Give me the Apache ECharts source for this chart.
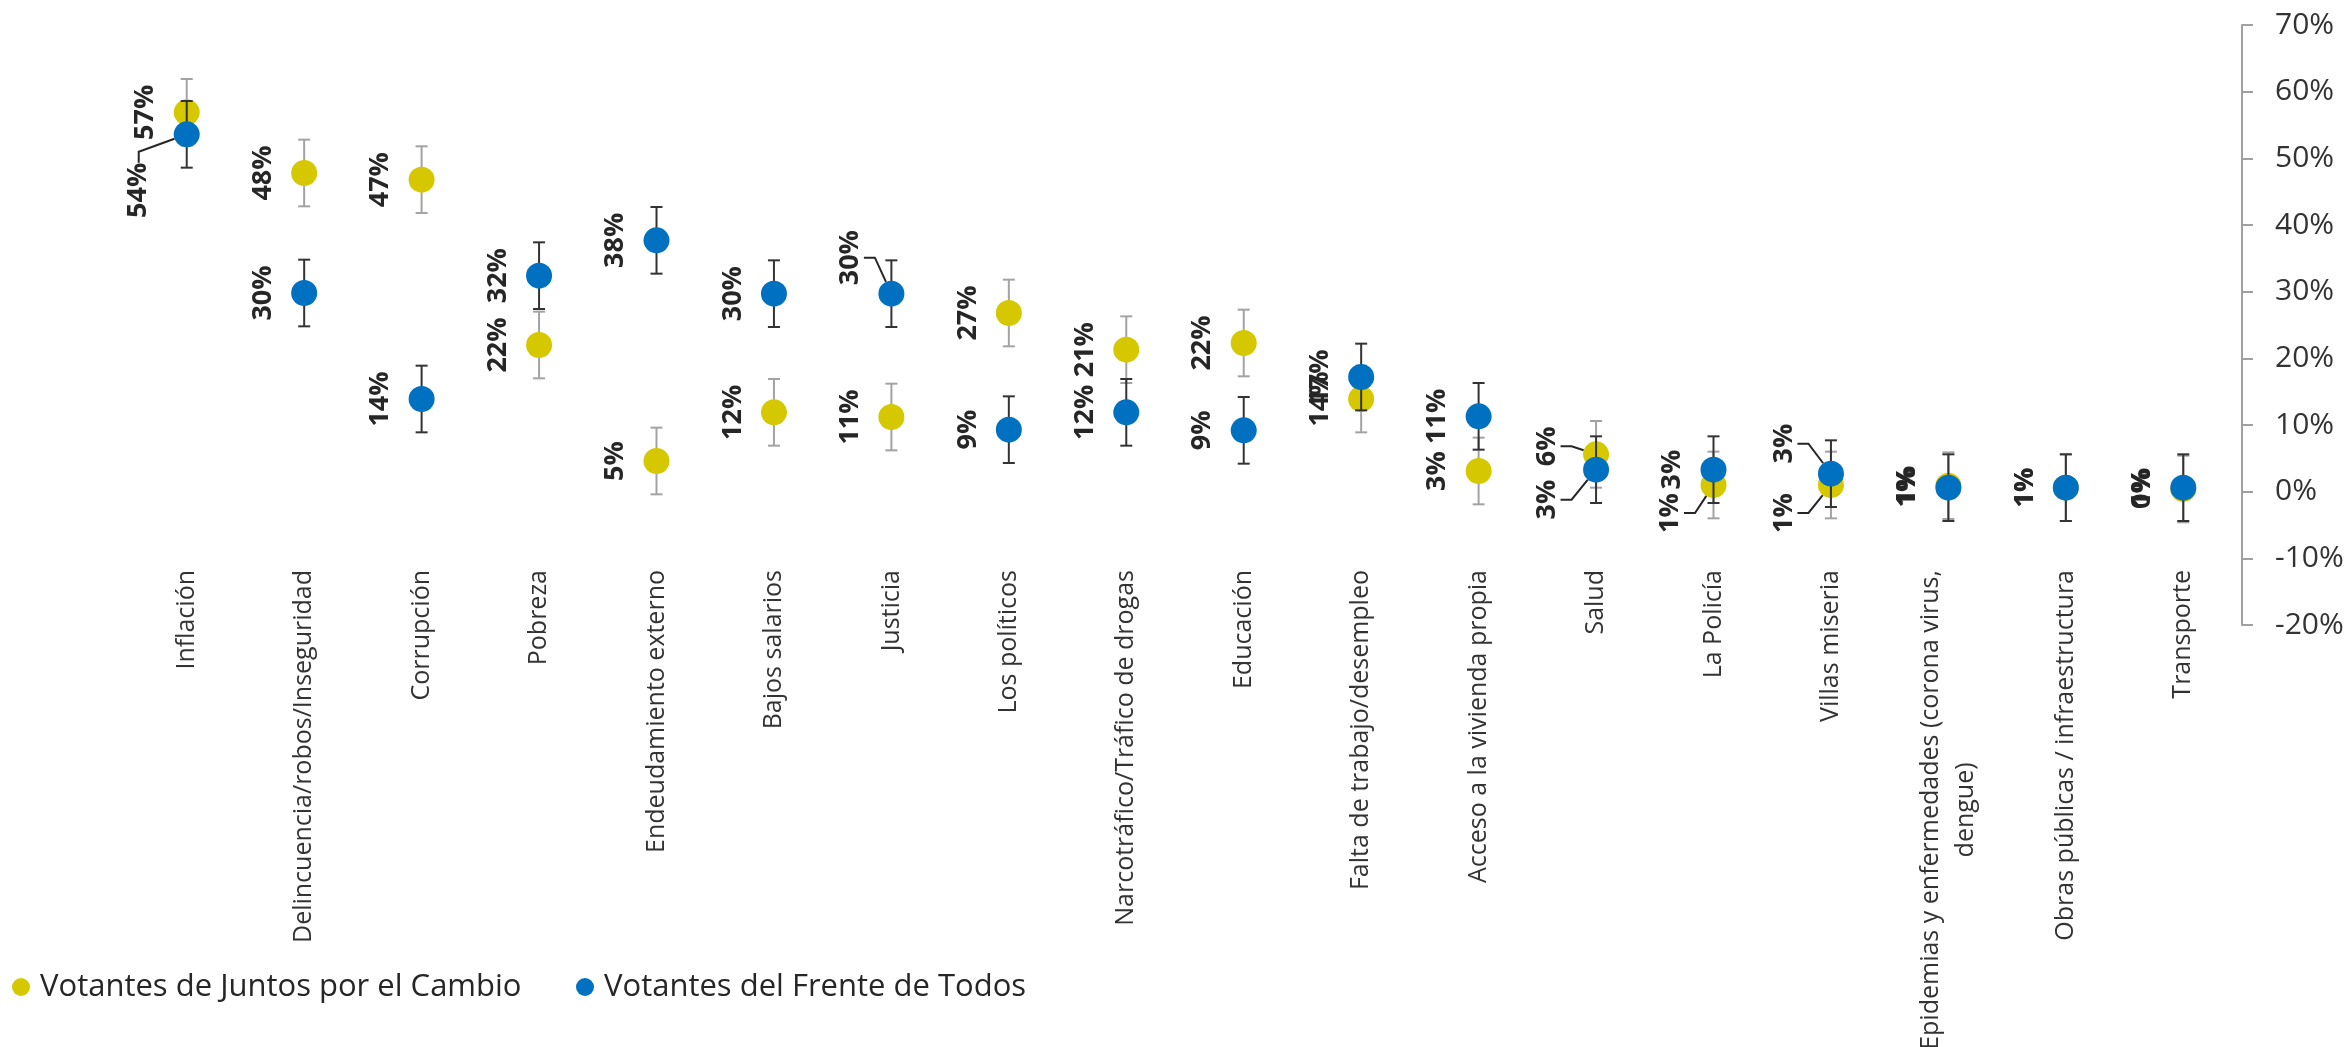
<!DOCTYPE html>
<html>
<head>
<meta charset="utf-8">
<script src="https://cdn.jsdelivr.net/npm/echarts@6/dist/echarts.min.js"></script>
<style>
html,body{margin:0;padding:0;background:#ffffff;}
#c{width:2351px;height:1047px;}
</style>
</head>
<body>
<div id="c"></div>
<script>
// ---------- data ----------
const categories = [
  'Inflación',
  'Delincuencia/robos/Inseguridad',
  'Corrupción',
  'Pobreza',
  'Endeudamiento externo',
  'Bajos salarios',
  'Justicia',
  'Los políticos',
  'Narcotráfico/Tráfico de drogas',
  'Educación',
  'Falta de trabajo/desempleo',
  'Acceso a la vivienda propia',
  'Salud',
  'La Policía',
  'Villas miseria',
  'Epidemias y enfermedades (corona virus,\ndengue)',
  'Obras públicas / infraestructura',
  'Transporte'
];
const seriesNames = ['Votantes de Juntos por el Cambio', 'Votantes del Frente de Todos'];
const juntosValues = [56.9, 47.8, 46.8, 22.0, 4.6, 11.9, 11.2, 26.8, 21.3, 22.3, 13.9, 3.1, 5.6, 1.0, 1.0, 0.9, 0.6, 0.4];
const frenteValues = [53.6, 29.8, 13.9, 32.4, 37.7, 29.7, 29.7, 9.3, 11.9, 9.2, 17.2, 11.3, 3.3, 3.3, 2.7, 0.6, 0.6, 0.6];
const juntosError  = [5, 5, 5, 5, 5, 5, 5, 5, 5, 5, 5, 5, 5, 5, 5, 5, 5, 5];
const frenteError  = [5, 5, 5, 5, 5, 5, 5, 5, 5, 5, 5, 5, 5, 5, 5, 5, 5, 5];
const yMin = -20, yMax = 70, yStep = 10;

// ---------- styling ----------
const YELLOW = '#D6C800';
const BLUE = '#0070C0';
const FONT = '"Open Sans", "Noto Sans", sans-serif';
// manual label displacements on screen (px: right, down) with leader lines, as in the original
const juntosShift = {12: [-8, -8], 13: [-2, 28], 14: [-6, 28]};
const frenteShift = {0: [-7, 56], 6: [0, -36], 12: [-8, 30], 14: [-6, -30]};

function errorSeries(values, errs, color, z) {
  return {
    type: 'custom',
    silent: true,
    z: z,
    data: values.map((v, i) => [i, v - errs[i], v + errs[i]]),
    encode: {x: 0, y: [1, 2]},
    renderItem: function (params, api) {
      const x = api.value(0);
      const top = api.coord([x, api.value(2)]);
      const bot = api.coord([x, api.value(1)]);
      const hw = 6;
      const st = {stroke: color, lineWidth: 2};
      return {
        type: 'group',
        children: [
          {type: 'line', shape: {x1: top[0], y1: top[1], x2: bot[0], y2: bot[1]}, style: st},
          {type: 'line', shape: {x1: top[0] - hw, y1: top[1], x2: top[0] + hw, y2: top[1]}, style: st},
          {type: 'line', shape: {x1: bot[0] - hw, y1: bot[1], x2: bot[0] + hw, y2: bot[1]}, style: st}
        ]
      };
    }
  };
}

function pointSeries(name, values, color, shift, z) {
  return {
    type: 'scatter',
    name: name,
    z: z,
    symbol: 'circle',
    symbolSize: 26,
    itemStyle: {color: color, opacity: 1},
    data: values.map((v, i) => ({
      value: [i, v],
      labelLine: {show: !!shift[i]}
    })),
    label: {
      show: true,
      position: 'left',
      distance: 28,
      rotate: 90,
      align: 'center',
      verticalAlign: 'middle',
      fontFamily: FONT,
      fontWeight: 'bold',
      fontSize: 27,
      color: '#262626',
      formatter: p => Math.round(p.value[1]) + '%'
    },
    labelLine: {
      show: false,
      length2: 11,
      smooth: false,
      lineStyle: {color: '#262626', width: 2}
    },
    labelLayout: function (params) {
      const s = shift[params.dataIndex];
      // label is rotated 90°, so its local frame is turned: convert screen shift
      return s ? {dx: -s[1], dy: s[0]} : {};
    },
    emphasis: {disabled: true}
  };
}

const chart = echarts.init(document.getElementById('c'), null, {renderer: 'canvas'});
chart.setOption({
  animation: false,
  backgroundColor: '#ffffff',
  textStyle: {fontFamily: FONT},
  grid: {left: 128, right: 109, top: 25, bottom: 422, containLabel: false, outerBoundsMode: 'none'},
  legend: [
    {
      data: [seriesNames[0]],
      left: 12, top: 969, padding: 0,
      icon: 'circle', itemWidth: 28, itemHeight: 18,
      textStyle: {fontFamily: FONT, fontSize: 31, color: '#262626', lineHeight: 36}
    },
    {
      data: [seriesNames[1]],
      left: 576, top: 969, padding: 0,
      icon: 'circle', itemWidth: 28, itemHeight: 18,
      textStyle: {fontFamily: FONT, fontSize: 31, color: '#262626', lineHeight: 36}
    }
  ],
  xAxis: {
    type: 'category',
    data: categories,
    position: 'bottom',
    axisLine: {show: false, onZero: false},
    axisTick: {show: false},
    splitLine: {show: false},
    axisLabel: {
      interval: 0,
      rotate: 90,
      margin: -55,
      fontFamily: FONT,
      fontSize: 25,
      lineHeight: 35,
      color: '#333333',
      formatter: v => v.split('\n').map(l => '{c|' + l + '}').join('\n'),
      rich: {c: {align: 'center', fontFamily: FONT, fontSize: 25, lineHeight: 35, color: '#333333'}}
    }
  },
  yAxis: {
    type: 'value',
    position: 'right',
    min: yMin, max: yMax, interval: yStep,
    axisLine: {show: true, lineStyle: {color: '#a0a0a0', width: 2}},
    axisTick: {show: true, inside: false, length: 11, lineStyle: {color: '#a0a0a0', width: 2}},
    splitLine: {show: false},
    axisLabel: {
      margin: 33,
      fontFamily: FONT,
      fontSize: 30,
      color: '#333333',
      formatter: '{value}%'
    }
  },
  series: [
    errorSeries(juntosValues, juntosError, '#a3a3a3', 1),
    pointSeries(seriesNames[0], juntosValues, YELLOW, juntosShift, 2),
    errorSeries(frenteValues, frenteError, '#333333', 3),
    pointSeries(seriesNames[1], frenteValues, BLUE, frenteShift, 4)
  ]
});
</script>
</body>
</html>
